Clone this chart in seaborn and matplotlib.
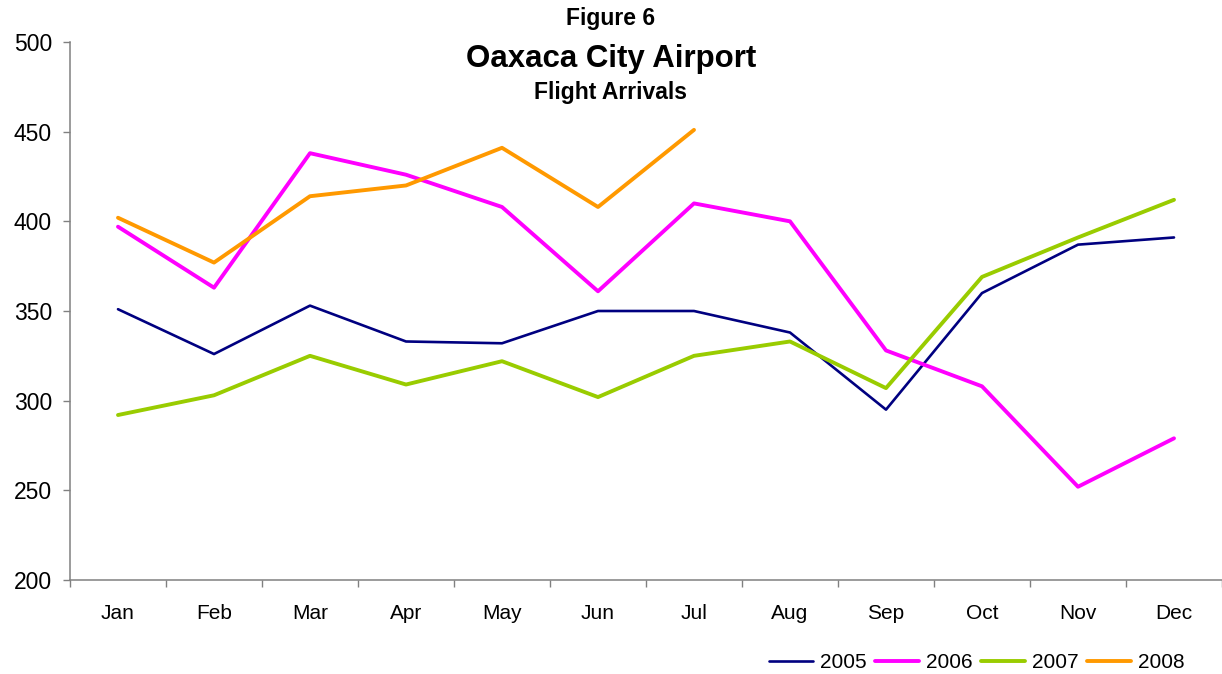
import numpy as np
import pandas as pd
import seaborn as sns
import matplotlib.pyplot as plt
from matplotlib.ticker import FixedLocator

months = ['Jan', 'Feb', 'Mar', 'Apr', 'May', 'Jun',
          'Jul', 'Aug', 'Sep', 'Oct', 'Nov', 'Dec']
years = ['2005', '2006', '2007', '2008']

arr_2005 = [351, 326, 353, 333, 332, 350, 350, 338, 295, 360, 387, 391]
arr_2006 = [397, 363, 438, 426, 408, 361, 410, 400, 328, 308, 252, 279]
arr_2007 = [292, 303, 325, 309, 322, 302, 325, 333, 307, 369, 391, 412]
arr_2008 = [402, 377, 414, 420, 441, 408, 451, np.nan, np.nan, np.nan, np.nan, np.nan]

colors = {'2005': '#000080', '2006': '#FF00FF', '2007': '#99CC00', '2008': '#FF9900'}
widths = {'2005': 1.9, '2006': 2.8, '2007': 2.8, '2008': 2.8}

rows = []
for yr, vals in zip(years, [arr_2005, arr_2006, arr_2007, arr_2008]):
    for m, v in zip(months, vals):
        rows.append({'Month': m, 'Year': yr, 'Arrivals': v})
df = pd.DataFrame(rows).dropna()

sns.set_style('white')
plt.rcParams['font.family'] = ['Liberation Sans', 'DejaVu Sans']
plt.rcParams['text.color'] = 'black'
plt.rcParams['xtick.color'] = 'black'
plt.rcParams['ytick.color'] = 'black'

fig = plt.figure(figsize=(12.22, 6.74), dpi=100)
ax = fig.add_axes([70 / 1222, 1 - 580 / 674, 1152 / 1222, 538 / 674])

sns.lineplot(data=df, x='Month', y='Arrivals', hue='Year', size='Year',
             hue_order=years, size_order=years, palette=colors, sizes=widths,
             sort=False, ax=ax)

ax.set_xlim(-0.5, 11.5)
ax.set_ylim(200, 500)
ax.set_yticks(range(200, 501, 50))
ax.set_xticks(range(12))
ax.set_xticklabels(months)
ax.xaxis.set_minor_locator(FixedLocator(np.arange(-0.5, 12, 1)))
ax.tick_params(axis='x', which='major', length=0, pad=17, labelsize=15,
               labelcolor='black')
ax.tick_params(axis='x', which='minor', length=5, width=1, color='#808080',
               direction='out', bottom=True)
ax.tick_params(axis='y', which='major', length=5, width=1, color='#808080',
               direction='out', left=True, pad=8, labelsize=16.5,
               labelcolor='black')
ax.set_xlabel('')
ax.set_ylabel('')

for side in ['top', 'right']:
    ax.spines[side].set_visible(False)
for side in ['left', 'bottom']:
    ax.spines[side].set_color('#808080')
    ax.spines[side].set_linewidth(1.1)

fig.text(0.5, 1 - 19 / 674, 'Figure 6', ha='center', va='center',
         fontsize=16.5, fontweight='bold')
fig.text(0.5, 1 - 59 / 674, 'Oaxaca City Airport', ha='center', va='center',
         fontsize=22.5, fontweight='bold')
fig.text(0.5, 1 - 93 / 674, 'Flight Arrivals', ha='center', va='center',
         fontsize=16.5, fontweight='bold')

handles, labels = ax.get_legend_handles_labels()
ax.legend(handles, labels, loc='center right', bbox_to_anchor=(1195 / 1222, 1 - 663 / 674),
          bbox_transform=fig.transFigure, ncol=4, frameon=False, fontsize=15,
          handlelength=2.1, handletextpad=0.35, columnspacing=0.4, borderpad=0)

fig.savefig('out.png', dpi=100)
